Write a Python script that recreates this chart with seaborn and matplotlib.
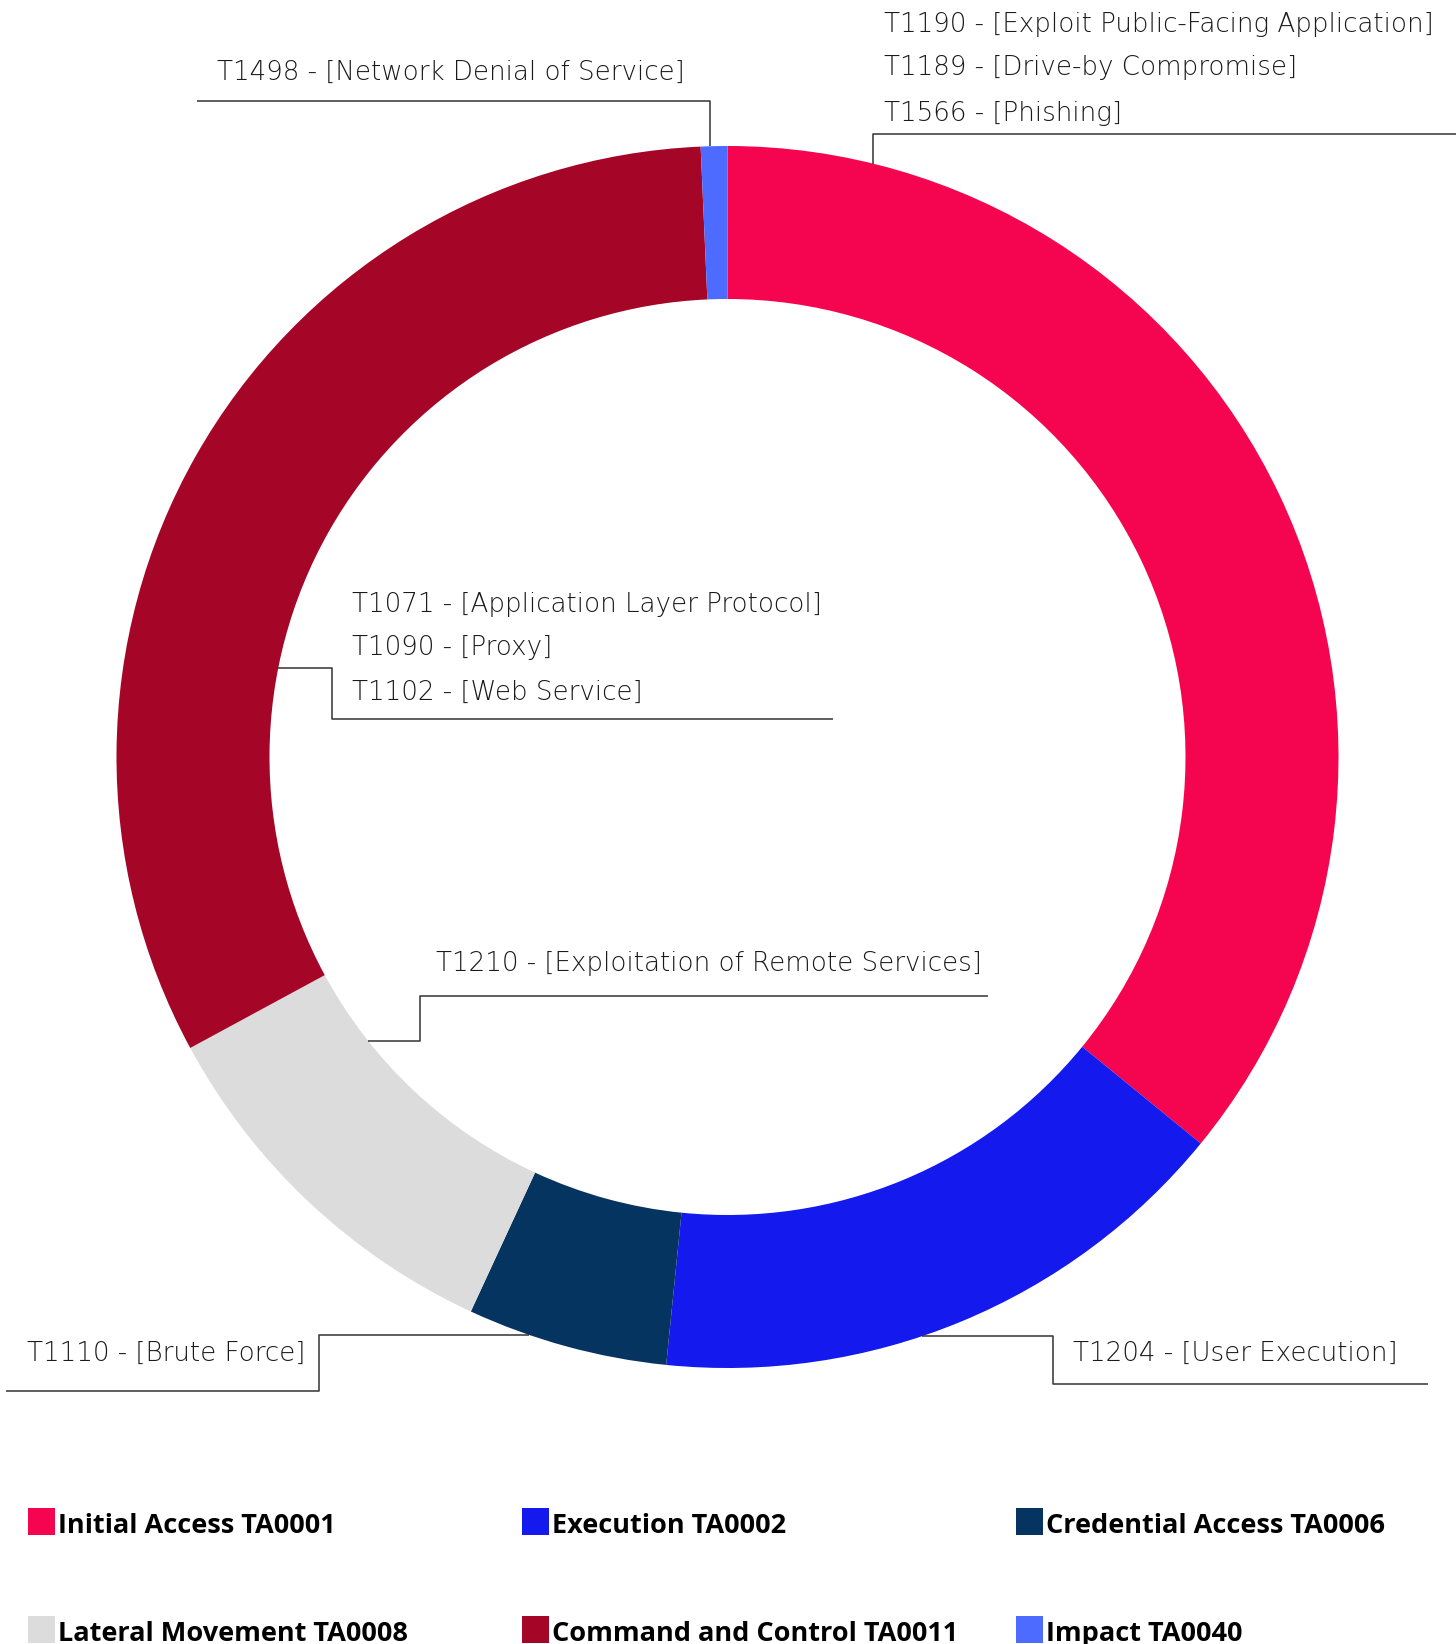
import numpy as np
import matplotlib
matplotlib.use("Agg")
import matplotlib.pyplot as plt
from matplotlib.patches import Rectangle
import seaborn as sns

# Share of observed techniques per ATT&CK tactic (percent)
tactics = [
    "Initial Access TA0001",
    "Execution TA0002",
    "Credential Access TA0006",
    "Lateral Movement TA0008",
    "Command and Control TA0011",
    "Impact TA0040",
]
shares = [35.9, 15.7, 5.3, 10.2, 32.2, 0.7]
tactic_colors = ["#F5044F", "#1419EE", "#063461", "#DCDCDC", "#A50628", "#4E6BFF"]

# Techniques listed next to each tactic
techniques = {
    "Initial Access TA0001": ["T1190 - [Exploit Public-Facing Application]",
                              "T1189 - [Drive-by Compromise]",
                              "T1566 - [Phishing]"],
    "Execution TA0002": ["T1204 - [User Execution]"],
    "Credential Access TA0006": ["T1110 - [Brute Force]"],
    "Lateral Movement TA0008": ["T1210 - [Exploitation of Remote Services]"],
    "Command and Control TA0011": ["T1071 - [Application Layer Protocol]",
                                   "T1090 - [Proxy]",
                                   "T1102 - [Web Service]"],
    "Impact TA0040": ["T1498 - [Network Denial of Service]"],
}

sns.set_theme(style="white")
plt.rcParams["font.family"] = ["Open Sans", "DejaVu Sans"]

W, H = 1456, 1644
fig = plt.figure(figsize=(W / 100, H / 100), dpi=100)
ax = fig.add_axes([0, 0, 1, 1])

cx, cy = 727.5, 757.0
r_out, ring = 611.0, 153.0
r_in = r_out - ring

palette = sns.color_palette(tactic_colors)
ax.pie(shares, colors=palette, startangle=-90, counterclock=True,
       center=(cx, cy), radius=r_out, frame=True,
       wedgeprops=dict(width=ring, linewidth=0))
ax.set_xlim(0, W)
ax.set_ylim(H, 0)
ax.set_aspect("equal")
ax.axis("off")


def ring_point(angle_deg, edge):
    """Point on the ring edge; angle measured clockwise from 12 o'clock."""
    r = r_out if edge == "outer" else r_in
    a = np.deg2rad(angle_deg)
    return cx + r * np.sin(a), cy - r * np.cos(a)


line_kw = dict(color="#333333", lw=1.1, solid_capstyle="butt", zorder=3)
text_kw = dict(color="#1a1a1a", fontsize=18.8, fontweight=200,
               family=["DejaVu Sans"], va="baseline", ha="left", zorder=4)

# (tactic, anchor angle, ring edge, leader waypoints, text x, text baselines)
callouts = [
    ("Initial Access TA0001", 13.8, "outer", [(None, 134), (1456, 134)], 884, [32, 75, 121]),
    ("Impact TA0040", 358.4, "outer", [(None, 101), (197, 101)], 217, [80]),
    ("Command and Control TA0011", 281.2, "inner", [(332, None), (332, 719), (833, 719)], 352, [612, 655, 700]),
    ("Lateral Movement TA0008", 231.7, "inner", [(420, None), (420, 996), (988, 996)], 436, [971]),
    ("Credential Access TA0006", 199.0, "outer", [(319, None), (319, 1391), (6, 1391)], 27, [1361]),
    ("Execution TA0002", 161.4, "outer", [(1053, None), (1053, 1384), (1428, 1384)], 1073, [1361]),
]

for tactic, ang, edge, waypoints, tx, baselines in callouts:
    x0, y0 = ring_point(ang, edge)
    xs, ys = [x0], [y0]
    for wx, wy in waypoints:
        xs.append(xs[-1] if wx is None else wx)
        ys.append(ys[-1] if wy is None else wy)
    ax.plot(xs, ys, **line_kw)
    for label, by in zip(techniques[tactic], baselines):
        ax.text(tx, by, label, **text_kw)

# Legend: three equal-width columns, two rows
col_x = [28, 522, 1016]
row_y = [1508, 1616]
sq = 27
for i, (name, col) in enumerate(zip(tactics, palette)):
    x = col_x[i % 3]
    y = row_y[i // 3]
    ax.add_patch(Rectangle((x, y), sq, sq, facecolor=col, edgecolor="none", zorder=3))
    ax.text(x + sq + 3, y + sq - 2, name, color="black", fontsize=19.5,
            fontweight="bold", va="baseline", ha="left", zorder=4)

fig.savefig("out.png", dpi=100, facecolor="white")
